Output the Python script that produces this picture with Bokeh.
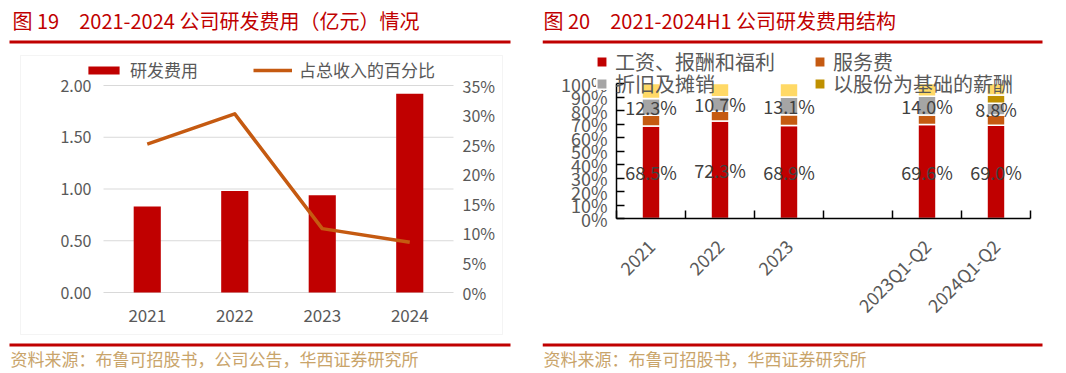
import math
from bokeh.plotting import figure
from bokeh.models import (ColumnDataSource, Range1d, LinearAxis, FixedTicker,
                          PrintfTickFormatter, NumeralTickFormatter, Legend, LegendItem,
                          Label, LabelSet, BoxAnnotation)
from bokeh.layouts import row
from bokeh.embed import file_html
from bokeh.resources import INLINE
from bokeh.core.properties import value

# ---------------- data ----------------
years = ["2021", "2022", "2023", "2024"]
rd_expense = [0.83, 0.98, 0.94, 1.92]        # 研发费用（亿元）
rd_ratio = [25.1, 30.2, 10.8, 8.5]           # 占总收入的百分比 (%)
left_ticks = [0, 0.5, 1.0, 1.5, 2.0]
right_ticks = [0, 5, 10, 15, 20, 25, 30, 35]

struct_cats = ["2021", "2022", "2023", "", "2023Q1-Q2", "2024Q1-Q2"]
salary = [68.5, 72.3, 68.9, None, 69.6, 69.0]       # 工资、报酬和福利
service = [8.0, 7.2, 8.0, None, 7.0, 7.6]           # 服务费
depreciation = [12.3, 10.7, 13.1, None, 14.0, 8.8]  # 折旧及摊销
share_based = [0.0, 0.0, 0.0, None, 0.0, 6.0]       # 以股份为基础的薪酬
other = [11.2, 9.8, 10.0, None, 9.4, 8.6]           # 其他
pct_ticks = [0, 10, 20, 30, 40, 50, 60, 70, 80, 90, 100]

series_names = ["工资、报酬和福利", "服务费", "折旧及摊销", "以股份为基础的薪酬"]

# ---------------- style ----------------
RED = "#C00000"
ORANGE = "#C55A11"
GRAY = "#A5A5A5"
GOLD = "#BF9000"
LIGHT = "#FFD966"
TXT = "#595959"
SRC = "#C9A46A"
CJK = "Noto Sans CJK SC"
H = 370


def span_range(v0, px0, v1, px1, size):
    """Range whose ends sit at canvas pixel 0 and `size`, given two anchor points."""
    k = (v1 - v0) / (px1 - px0)
    return Range1d(v0 - px0 * k, v0 + (size - px0) * k)


def yrange(v_bottom, y_bottom, v_top, y_top):
    # y pixels measured from the top of the canvas
    k = (v_top - v_bottom) / (y_bottom - y_top)
    return Range1d(v_bottom - (H - y_bottom) * k, v_top + y_top * k)


def screen_box(fig, l, r, b, t, **kw):
    fig.add_layout(BoxAnnotation(left=l, right=r, bottom=b, top=t,
                                 left_units="screen", right_units="screen",
                                 bottom_units="screen", top_units="screen", **kw))


def screen_text(fig, x, y, text, size, color):
    fig.add_layout(Label(x=x, y=y, x_units="screen", y_units="screen", text=text,
                         text_font=CJK, text_font_size=size, text_color=color,
                         text_baseline="middle", text_align="left"))


# ================= left chart (canvas x 0..511) =================
W1 = 511
n1 = len(years)
x1 = [i + 0.5 for i in range(n1)]
src1 = ColumnDataSource(dict(x=x1, rd=rd_expense, ratio=rd_ratio))
p1 = figure(width=W1, height=H, x_range=span_range(0, 103, n1, 453, W1),
            y_range=yrange(0, 292, 2.0, 85),
            output_backend="svg", toolbar_location=None, min_border=0,
            outline_line_color=None)
p1.grid.visible = False
p1.extra_y_ranges = {"pct": yrange(0, 292, 35, 85)}

# horizontal gridlines across the plotting area
p1.segment(x0=[0] * len(left_ticks), x1=[n1] * len(left_ticks), y0=left_ticks, y1=left_ticks,
           line_color="#D9D9D9", line_width=1)
bars = p1.vbar(x="x", top="rd", width=0.31, fill_color=RED, line_color=None, source=src1)
line = p1.line(x="x", y="ratio", y_range_name="pct", line_color=ORANGE, line_width=3.5,
               line_join="round", source=src1)

p1.xaxis.fixed_location = 0
p1.xaxis.ticker = FixedTicker(ticks=x1)
p1.xaxis.major_label_overrides = {x: y for x, y in zip(x1, years)}
p1.xaxis.major_label_standoff = 16
p1.xaxis.major_label_text_font_size = "17px"

p1.yaxis.fixed_location = 0
p1.yaxis.ticker = FixedTicker(ticks=left_ticks)
p1.yaxis.formatter = NumeralTickFormatter(format="0.00")
p1.yaxis.major_label_standoff = 12
p1.yaxis.major_label_text_font_size = "16px"

ax_r = LinearAxis(y_range_name="pct", fixed_location=n1, ticker=FixedTicker(ticks=right_ticks),
                  formatter=PrintfTickFormatter(format="%d%%"),
                  major_label_standoff=9, major_label_text_font_size="16px")
p1.add_layout(ax_r, "right")
for ax in p1.axis:
    ax.axis_line_color = None
    ax.major_tick_line_color = None
    ax.minor_tick_line_color = None
    ax.major_tick_out = 0
    ax.major_tick_in = 0
    ax.major_label_text_color = TXT
    ax.major_label_text_font = CJK

leg1 = Legend(items=[LegendItem(label="研发费用", renderers=[bars]),
                     LegendItem(label="占总收入的百分比", renderers=[line])],
              orientation="horizontal", location=(84, H - 82), glyph_width=39, glyph_height=10,
              label_standoff=7, spacing=55, padding=0, margin=0,
              label_text_font=CJK, label_text_font_size="17px", label_text_color=TXT,
              background_fill_alpha=0, border_line_color=None)
p1.add_layout(leg1)

# decorations (screen units: x from left, y up from bottom)
screen_box(p1, 20, 502, H - 334, H - 55, fill_alpha=0, line_color="#D9D9D9", line_width=1)
screen_box(p1, 9, 510, H - 43, H - 40, fill_color=RED, fill_alpha=1, line_color=None)
screen_box(p1, 9, 510, H - 346, H - 343, fill_color=RED, fill_alpha=1, line_color=None)
screen_text(p1, 12, H - 20, "图 19\u30002021-2024 公司研发费用（亿元）情况", "20px", RED)
screen_text(p1, 10, H - 358, "资料来源：布鲁可招股书，公司公告，华西证券研究所", "17px", SRC)

# ================= right chart (canvas x 542..1043) =================
W2 = 501
X0 = 542
n2 = len(struct_cats)
keep = [i for i, v in enumerate(salary) if v is not None]
sal = [salary[i] for i in keep]
ser = [service[i] for i in keep]
dep = [depreciation[i] for i in keep]
shr = [share_based[i] for i in keep]
oth = [other[i] for i in keep]
src2 = ColumnDataSource(dict(
    x=[i + 0.5 for i in keep], salary=sal, service=ser, dep=dep, share=shr, other=oth,
    mid_sal=[s / 2 for s in sal],
    mid_dep=[s + v + d / 2 for s, v, d in zip(sal, ser, dep)],
    lab_sal=[f"{s:.1f}%" for s in sal],
    lab_dep=[f"{d:.1f}%" for d in dep],
))
centers = [i + 0.5 for i in range(n2)]
bounds = list(range(n2 + 1))

p2 = figure(width=W2, height=H, x_range=span_range(0, 616 - X0, n2, 1030 - X0, W2),
            y_range=yrange(0, 218, 100, 83),
            output_backend="svg", toolbar_location=None, min_border=0,
            outline_line_color=None)
p2.grid.visible = False
rs = p2.vbar_stack(["salary", "service", "dep", "share", "other"], x="x", width=0.26,
                   color=[RED, ORANGE, GRAY, GOLD, LIGHT], line_color="white", line_width=1.5,
                   source=src2)
p2.add_layout(LabelSet(x="x", y="mid_sal", text="lab_sal", source=src2,
                       text_font=value(CJK), text_font_size=value("18px"), text_color="#404040",
                       text_align="center", text_baseline="middle"))
p2.add_layout(LabelSet(x="x", y="mid_dep", text="lab_dep", source=src2,
                       text_font=value(CJK), text_font_size=value("18px"), text_color="#404040",
                       text_align="center", text_baseline="middle"))

p2.xaxis.fixed_location = 0
p2.xaxis.bounds = (0, n2)
p2.xaxis.ticker = FixedTicker(ticks=centers, minor_ticks=bounds)
p2.xaxis.major_label_overrides = {c: s for c, s in zip(centers, struct_cats)}
p2.xaxis.major_label_orientation = math.pi / 4
p2.xaxis.major_tick_line_color = None
p2.xaxis.major_tick_out = 0
p2.xaxis.major_tick_in = 0
p2.xaxis.minor_tick_line_color = "black"
p2.xaxis.minor_tick_line_width = 1.5
p2.xaxis.minor_tick_in = 8
p2.xaxis.minor_tick_out = 0
p2.xaxis.major_label_standoff = 24

p2.yaxis.fixed_location = 0
p2.yaxis.bounds = (0, 100)
p2.yaxis.ticker = FixedTicker(ticks=pct_ticks)
p2.yaxis.formatter = PrintfTickFormatter(format="%d%%")
p2.yaxis.major_tick_in = 8
p2.yaxis.major_tick_out = 0
p2.yaxis.major_tick_line_color = "black"
p2.yaxis.major_tick_line_width = 1.5
p2.yaxis.minor_tick_line_color = None
p2.yaxis.major_label_standoff = 9
for ax in p2.axis:
    ax.axis_line_color = "black"
    ax.axis_line_width = 1.5
    ax.major_label_text_color = TXT
    ax.major_label_text_font = CJK
    ax.major_label_text_font_size = "18px"

leg_kw = dict(orientation="horizontal", glyph_width=13, glyph_height=13, label_standoff=7,
              label_width=198, spacing=0, padding=0, margin=0,
              label_text_font=CJK, label_text_font_size="20px", label_text_color=TXT,
              background_fill_alpha=0, border_line_color=None)
leg2a = Legend(items=[LegendItem(label=series_names[0], renderers=[rs[0]]),
                      LegendItem(label=series_names[1], renderers=[rs[1]])],
               location=(595 - X0, H - 76), **leg_kw)
leg2b = Legend(items=[LegendItem(label=series_names[2], renderers=[rs[2]]),
                      LegendItem(label=series_names[3], renderers=[rs[3]])],
               location=(595 - X0, H - 98), **leg_kw)
p2.add_layout(leg2a)
p2.add_layout(leg2b)

screen_box(p2, 0, 500, H - 43, H - 40, fill_color=RED, fill_alpha=1, line_color=None)
screen_box(p2, 0, 500, H - 346, H - 343, fill_color=RED, fill_alpha=1, line_color=None)
screen_text(p2, 1, H - 20, "图 20\u30002021-2024H1 公司研发费用结构", "20px", RED)
screen_text(p2, 1, H - 358, "资料来源：布鲁可招股书，华西证券研究所", "17px", SRC)

layout = row(p1, p2, spacing=31)
open("out.html", "w").write(file_html(layout, INLINE))
